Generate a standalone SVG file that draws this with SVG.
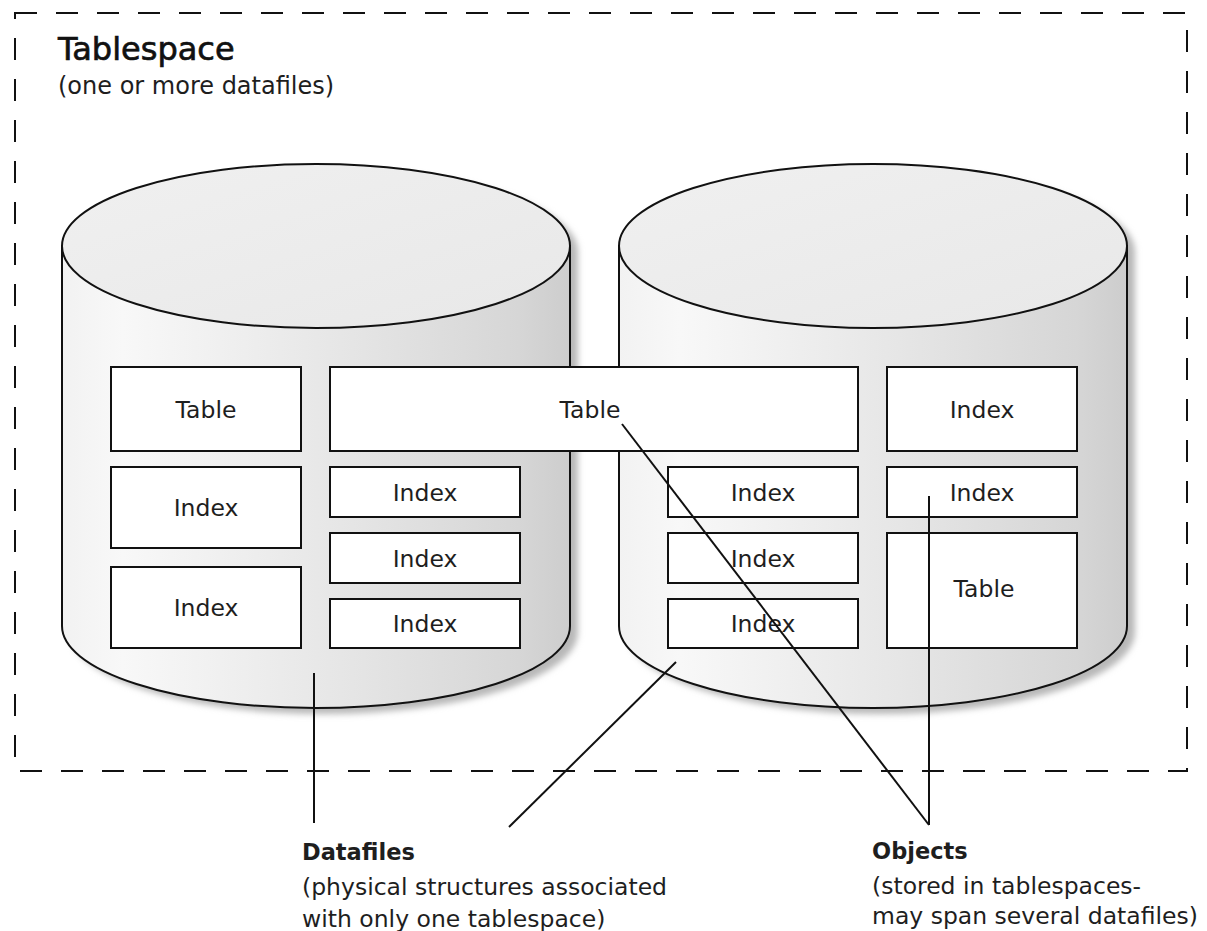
<svg xmlns="http://www.w3.org/2000/svg" width="1207" height="931" viewBox="0 0 1207 931">
<style>
.border{fill:none;stroke:#111;stroke-width:2;stroke-dasharray:22 19}
.outline{stroke:#111;stroke-width:2}
.box{fill:#fff;stroke:#111;stroke-width:2}
.t{font-family:"DejaVu Sans",sans-serif;font-size:23.5px;fill:#1e1e1e}
.c{text-anchor:middle}
.b{font-weight:bold;font-size:22.5px}
.title{font-size:32px;fill:#111;stroke:#111;stroke-width:0.7}
.conn line{stroke:#111;stroke-width:2}
</style>
<defs>
<linearGradient id="body" x1="0" y1="0" x2="1" y2="0">
<stop offset="0" stop-color="#f2f2f2"/>
<stop offset="0.12" stop-color="#f8f8f8"/>
<stop offset="0.55" stop-color="#e6e6e6"/>
<stop offset="0.9" stop-color="#d6d6d6"/>
<stop offset="1" stop-color="#cdcdcd"/>
</linearGradient>
<linearGradient id="top" x1="0" y1="0" x2="1" y2="1">
<stop offset="0" stop-color="#f0f0f0"/>
<stop offset="1" stop-color="#e8e8e8"/>
</linearGradient>
<filter id="blur" x="-10%" y="-10%" width="120%" height="120%">
<feGaussianBlur stdDeviation="3"/>
</filter>
</defs>

<rect id="tablespace" class="border" x="15" y="13" width="1172" height="758"/>
<g id="tablespace-label">
<text class="t title" x="58" y="60">Tablespace</text>
<text class="t" x="58" y="94" style="font-size:24px">(one or more datafiles)</text>
</g>

<g id="datafile-left">
<path d="M62,246 A254,82 0 0 1 570,246 V626 A254,82 0 0 1 62,626 Z" transform="translate(8,6)" fill="#b8b8b8" filter="url(#blur)"/>
<path class="outline" d="M62,246 V626 A254,82 0 0 0 570,626 V246 Z" fill="url(#body)"/>
<ellipse class="outline" cx="316" cy="246" rx="254" ry="82" fill="url(#top)"/>
</g>

<g id="datafile-right">
<path d="M619,246 A254,82 0 0 1 1127,246 V626 A254,82 0 0 1 619,626 Z" transform="translate(8,6)" fill="#b8b8b8" filter="url(#blur)"/>
<path class="outline" d="M619,246 V626 A254,82 0 0 0 1127,626 V246 Z" fill="url(#body)"/>
<ellipse class="outline" cx="873" cy="246" rx="254" ry="82" fill="url(#top)"/>
</g>

<g id="obj-table-1"><rect class="box" x="111" y="367" width="190" height="84"/><text class="t c" x="206" y="418">Table</text></g>
<g id="obj-index-1"><rect class="box" x="111" y="467" width="190" height="81"/><text class="t c" x="206" y="516">Index</text></g>
<g id="obj-index-2"><rect class="box" x="111" y="567" width="190" height="81"/><text class="t c" x="206" y="616">Index</text></g>
<g id="obj-index-3"><rect class="box" x="330" y="467" width="190" height="50"/><text class="t c" x="425" y="501">Index</text></g>
<g id="obj-index-4"><rect class="box" x="330" y="533" width="190" height="50"/><text class="t c" x="425" y="567">Index</text></g>
<g id="obj-index-5"><rect class="box" x="330" y="599" width="190" height="49"/><text class="t c" x="425" y="632">Index</text></g>
<g id="obj-table-2"><rect class="box" x="330" y="367" width="528" height="84"/><text class="t c" x="590" y="418">Table</text></g>
<g id="obj-index-6"><rect class="box" x="668" y="467" width="190" height="50"/><text class="t c" x="763" y="501">Index</text></g>
<g id="obj-index-7"><rect class="box" x="668" y="533" width="190" height="50"/><text class="t c" x="763" y="567">Index</text></g>
<g id="obj-index-8"><rect class="box" x="668" y="599" width="190" height="49"/><text class="t c" x="763" y="632">Index</text></g>
<g id="obj-index-9"><rect class="box" x="887" y="367" width="190" height="84"/><text class="t c" x="982" y="418">Index</text></g>
<g id="obj-index-10"><rect class="box" x="887" y="467" width="190" height="50"/><text class="t c" x="982" y="501">Index</text></g>
<g id="obj-table-3"><rect class="box" x="887" y="533" width="190" height="115"/><text class="t c" x="984" y="597">Table</text></g>

<g id="connectors" class="conn">
<line x1="314" y1="673" x2="314" y2="823"/>
<line x1="676" y1="662" x2="509" y2="827"/>
<line x1="622" y1="424" x2="929" y2="825"/>
<line x1="929" y1="496" x2="929" y2="825"/>
</g>

<g id="label-datafiles">
<text class="t b" x="302" y="860">Datafiles</text>
<text class="t" x="302" y="895">(physical structures associated</text>
<text class="t" x="302" y="927">with only one tablespace)</text>
</g>
<g id="label-objects">
<text class="t b" x="872" y="859">Objects</text>
<text class="t" x="872" y="894">(stored in tablespaces-</text>
<text class="t" x="872" y="924">may span several datafiles)</text>
</g>
</svg>
